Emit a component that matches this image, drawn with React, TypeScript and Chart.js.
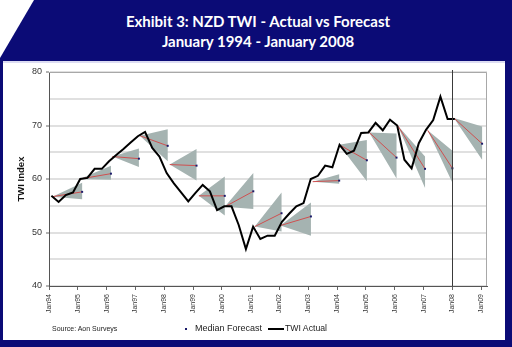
import React, { useEffect, useRef } from 'react';
import { Chart, registerables } from 'chart.js';

Chart.register(...registerables);

// ---- data ----
const yearTicks = [1994, 1995, 1996, 1997, 1998, 1999, 2000, 2001, 2002, 2003, 2004, 2005, 2006, 2007, 2008, 2009];

const actualDates = [
  '1994-02', '1994-05', '1994-08', '1994-11',
  '1995-02', '1995-05', '1995-08', '1995-11',
  '1996-02', '1996-05', '1996-08', '1996-11',
  '1997-02', '1997-05', '1997-08', '1997-11',
  '1998-02', '1998-05', '1998-08', '1998-11',
  '1999-02', '1999-05', '1999-08', '1999-11',
  '2000-02', '2000-05', '2000-08', '2000-11',
  '2001-02', '2001-05', '2001-08', '2001-11',
  '2002-02', '2002-05', '2002-08', '2002-11',
  '2003-02', '2003-05', '2003-08', '2003-11',
  '2004-02', '2004-05', '2004-08', '2004-11',
  '2005-02', '2005-05', '2005-08', '2005-11',
  '2006-02', '2006-05', '2006-08', '2006-11',
  '2007-02', '2007-05', '2007-08', '2007-11',
  '2008-02',
];

const actualValues = [
  56.85, 55.7, 57.0, 57.5,
  60.0, 60.2, 61.9, 61.9,
  63.3, 64.5, 65.6, 66.8,
  68.0, 68.8, 65.8, 64.2,
  61.1, 59.2, 57.5, 55.8,
  57.4, 58.9, 57.7, 54.2,
  54.9, 54.9, 51.4, 46.9,
  51.1, 48.8, 49.4, 49.4,
  52.0, 53.5, 54.9, 55.5,
  60.0, 60.6, 62.5, 62.2,
  66.4, 64.7, 65.3, 68.6,
  68.7, 70.5, 69.1, 71.1,
  70.0, 63.6, 62.0, 66.7,
  69.2, 71.0, 75.4, 71.2,
  71.2,
];

// one-year-ahead forecasts made each January
const forecastStart = [1994.12, 1995.07, 1996.2, 1997.15, 1998.19, 1999.2, 2000.1, 2001.14, 2002.03, 2003.15, 2004.07, 2005.11, 2006.1, 2007.14, 2008.05];
const forecastEnd = [1995.15, 1996.15, 1997.12, 1998.12, 1999.12, 2000.1, 2001.09, 2002.07, 2003.09, 2004.07, 2005.03, 2006.06, 2007.05, 2008.0, 2009.03];
const forecastStartValue = [56.7, 60.0, 64.2, 68.1, 62.7, 56.85, 54.8, 51.1, 51.3, 59.5, 66.4, 68.7, 70.0, 69.1, 71.4];
const forecastMedian = [57.6, 61.0, 63.8, 66.2, 62.5, 56.85, 57.7, 53.6, 53.0, 59.7, 63.5, 64.0, 61.9, 62.0, 66.6];
const forecastHigh = [59.3, 62.5, 65.7, 69.3, 65.6, 60.45, 61.1, 57.5, 55.6, 60.9, 67.3, 68.5, 64.2, 65.3, 69.8];
const forecastLow = [56.2, 59.85, 62.25, 63.3, 59.7, 53.2, 54.4, 50.2, 49.4, 59.1, 59.6, 60.1, 58.3, 59.3, 63.6];

const markerYear = 2008;

const toYear = (s: string) => {
  const [y, m] = s.split('-').map(Number);
  return y + (m - 1) / 12;
};

const NAVY = '#0b0b76';

const framePlugin = {
  id: 'plotFrame',
  beforeDatasetsDraw(chart: any) {
    const { ctx, chartArea: a } = chart;
    ctx.save();
    ctx.strokeStyle = '#a8a8a8';
    ctx.lineWidth = 1;
    ctx.beginPath();
    ctx.moveTo(a.left, a.top + 0.5);
    ctx.lineTo(a.right - 0.5, a.top + 0.5);
    ctx.lineTo(a.right - 0.5, a.bottom);
    ctx.stroke();
    ctx.restore();
  },
  afterDatasetsDraw(chart: any) {
    const { ctx, chartArea: a, scales } = chart;
    const x = Math.round(scales.x.getPixelForValue(markerYear)) + 0.5;
    ctx.save();
    ctx.strokeStyle = '#3a3a3a';
    ctx.lineWidth = 1;
    ctx.beginPath();
    ctx.moveTo(x, a.top - 2);
    ctx.lineTo(x, a.bottom);
    ctx.stroke();
    ctx.restore();
  },
};

export default function App() {
  const ref = useRef<HTMLCanvasElement>(null);

  useEffect(() => {
    if (!ref.current) return;
    Chart.defaults.font.family = "'Liberation Sans', Arial, sans-serif";

    const datasets: any[] = [];
    datasets.push({
      label: 'TWI Actual',
      data: actualDates.map((d, i) => ({ x: toYear(d), y: actualValues[i] })),
      borderColor: '#000000',
      borderWidth: 2,
      pointRadius: 0,
      tension: 0,
      fill: false,
      order: 0,
    });
    datasets.push({
      label: 'Median Forecast',
      data: forecastEnd.map((x, i) => ({ x, y: forecastMedian[i] })),
      showLine: false,
      pointStyle: 'rect',
      pointRadius: 1.4,
      pointBackgroundColor: '#1a1a6a',
      pointBorderColor: '#1a1a6a',
      pointBorderWidth: 0,
      order: 1,
    });
    forecastStart.forEach((s, i) => {
      datasets.push({
        label: 'median' + i,
        data: [
          { x: s, y: forecastStartValue[i] },
          { x: forecastEnd[i], y: forecastMedian[i] },
        ],
        borderColor: '#cf5050',
        borderWidth: 1,
        pointRadius: 0,
        fill: false,
        order: 2,
      });
      datasets.push({
        label: 'range' + i,
        data: [
          { x: s, y: forecastStartValue[i] },
          { x: forecastEnd[i], y: forecastHigh[i] },
          { x: forecastEnd[i], y: forecastLow[i] },
        ],
        borderColor: 'rgba(0,0,0,0)',
        borderWidth: 0,
        backgroundColor: '#a5b3b1',
        pointRadius: 0,
        fill: 'shape',
        order: 3,
      });
    });

    const chart = new Chart(ref.current, {
      type: 'line',
      data: { datasets },
      plugins: [framePlugin],
      options: {
        animation: false,
        responsive: false,
        maintainAspectRatio: false,
        layout: { padding: { top: 12, right: 25, left: 0, bottom: 0 } },
        plugins: {
          legend: { display: false },
          tooltip: { enabled: false },
        },
        scales: {
          x: {
            type: 'linear',
            min: 1994,
            max: 2009.2,
            afterFit: (scale: any) => { scale.height = 52; },
            afterBuildTicks: (scale: any) => { scale.ticks = yearTicks.map((v) => ({ value: v })); },
            ticks: {
              autoSkip: false,
              minRotation: 90,
              maxRotation: 90,
              padding: 4,
              color: '#333333',
              font: { size: 7 },
              callback: (v: any) => 'Jan' + String(v).slice(2),
            },
            grid: { drawOnChartArea: false, drawTicks: true, tickLength: 4, color: '#666666' },
            border: { color: '#555555', width: 1 },
          },
          y: {
            min: 40,
            max: 80,
            afterFit: (scale: any) => { scale.width = 49; },
            ticks: {
              stepSize: 5,
              padding: 4,
              color: '#333333',
              font: { size: 9 },
              callback: (v: any) => (v % 10 === 0 ? String(v) : ''),
            },
            grid: {
              color: '#e0e0e0',
              lineWidth: 2,
              tickLength: 3,
              tickColor: (c: any) => (c.tick && c.tick.value % 10 === 0 ? '#666666' : 'rgba(0,0,0,0)'),
              tickWidth: 1,
            },
            border: { color: '#555555', width: 1 },
            title: {
              display: true,
              text: 'TWI Index',
              color: '#111111',
              font: { size: 9.5, weight: 'bold' },
              padding: { top: 16, bottom: 0 },
            },
          },
        },
      },
    } as any);
    return () => chart.destroy();
  }, []);

  const txt: React.CSSProperties = { position: 'absolute', fontFamily: "'Liberation Sans', Arial, sans-serif", color: '#222', whiteSpace: 'nowrap', lineHeight: '1' };

  return (
    <div style={{ position: 'fixed', left: 0, top: 0, width: 512, height: 347, background: '#ffffff', overflow: 'hidden' }}>
      {/* title banner */}
      <div style={{ position: 'absolute', left: 0, top: 0, width: 512, height: 61, background: NAVY, clipPath: 'polygon(34px 0, 512px 0, 512px 61px, 0 61px, 0 58px)' }} />
      <div style={{ position: 'absolute', left: 2, top: 11, width: 512, textAlign: 'center', color: '#ffffff', fontFamily: 'Lato, sans-serif', fontWeight: 700, fontSize: 15, lineHeight: '20px' }}>
        <div>Exhibit 3: NZD TWI - Actual vs Forecast</div>
        <div>January 1994 - January 2008</div>
      </div>
      {/* panel frame */}
      <div style={{ position: 'absolute', left: 0, top: 60, width: 3, height: 287, background: NAVY }} />
      <div style={{ position: 'absolute', left: 505, top: 60, width: 7, height: 287, background: NAVY }} />
      <div style={{ position: 'absolute', left: 0, top: 340, width: 512, height: 7, background: NAVY }} />
      <div style={{ position: 'absolute', left: 3, top: 61, width: 502, height: 2, background: '#dcdcf2' }} />
      <canvas ref={ref} width={512} height={278} style={{ position: 'absolute', left: 0, top: 60, width: 512, height: 278 }} />
      {/* legend & source */}
      <div style={{ ...txt, left: 52, top: 325, fontSize: 7 }}>Source: Aon Surveys</div>
      <div style={{ position: 'absolute', left: 185, top: 328, width: 2, height: 2, background: '#1a1a6a' }} />
      <div style={{ ...txt, left: 195, top: 324, fontSize: 9 }}>Median Forecast</div>
      <div style={{ position: 'absolute', left: 268, top: 328, width: 16, height: 1.5, background: '#000' }} />
      <div style={{ ...txt, left: 285, top: 324, fontSize: 8.7 }}>TWI Actual</div>
    </div>
  );
}
